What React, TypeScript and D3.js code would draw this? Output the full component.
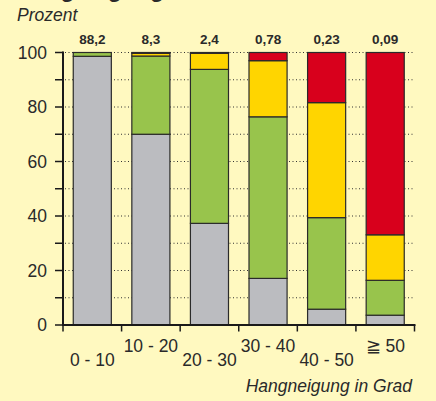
import React from "react";
import * as d3 from "d3";

const categories = ["0 - 10", "10 - 20", "20 - 30", "30 - 40", "40 - 50", "\u2267 50"];
const shares = ["88,2", "8,3", "2,4", "0,78", "0,23", "0,09"];
const gray = [98.6, 70.0, 37.3, 17.1, 5.8, 3.6];
const green = [1.4, 28.7, 56.5, 59.3, 33.6, 12.8];
const yellow = [0, 1.0, 5.9, 20.6, 42.2, 16.7];
const red = [0, 0.3, 0.3, 3.0, 18.4, 66.9];
const yTicks = [0, 20, 40, 60, 80, 100];
const minorTicks = [10, 20, 30, 40, 50, 60, 70, 80, 90, 100];

const seriesKeys = ["gray", "green", "yellow", "red"];
const colors: Record<string, string> = {
  gray: "#BBBCC0",
  green: "#98C44C",
  yellow: "#FFD500",
  red: "#D8001C",
};

const W = 436;
const H = 401;
const left = 63;
const right = 414.5;
const top = 52.5;
const bottom = 325;

export default function App() {
  const rows = categories.map((c, i) => ({
    cat: c,
    gray: gray[i],
    green: green[i],
    yellow: yellow[i],
    red: red[i],
  }));
  const stack = d3.stack<any>().keys(seriesKeys)(rows);
  const x = d3.scaleBand<string>().domain(categories).range([left, right]).paddingInner(0.35).paddingOuter(0.175);
  const xb = d3.scaleBand<string>().domain(categories).range([left, right]);
  const y = d3.scaleLinear().domain([0, 100]).range([bottom, top]);
  const font = "'Liberation Sans', Arial, Helvetica, sans-serif";
  const txt = "#2a2a2a";

  return (
    <svg width={W} height={H} style={{ position: "absolute", left: 0, top: 0 }} fontFamily={font}>
      <rect x={0} y={0} width={W} height={H} fill="#FFF9C0" />
      <text x={17} y={-3} fontSize={23} fontWeight="bold" fill={txt}>Hangneigung</text>
      <text x={17} y={20.5} fontSize={17.5} fontStyle="italic" fill={txt}>Prozent</text>
      {minorTicks.map((t) => (
        <line key={"g" + t} x1={left + 2} x2={right} y1={y(t)} y2={y(t)} stroke="#333" strokeWidth={1} strokeDasharray="1,2.5" />
      ))}
      {stack.map((s) => (
        <g key={s.key}>
          {s.map((d, i) => {
            const h = y(d[0]) - y(d[1]);
            if (h <= 0) return null;
            return (
              <rect
                key={i}
                x={x(categories[i])}
                y={y(d[1])}
                width={x.bandwidth()}
                height={h}
                fill={colors[s.key]}
                stroke="#2a2a2a"
                strokeWidth={1.2}
              />
            );
          })}
        </g>
      ))}
      {categories.map((c, i) => (
        <text key={"s" + i} x={(x(c) as number) + x.bandwidth() / 2} y={44.3} textAnchor="middle" fontSize={13.5} fontWeight="bold" fill={txt}>
          {shares[i]}
        </text>
      ))}
      {/* y axis */}
      <line x1={left} x2={left} y1={top - 1} y2={bottom + 1} stroke="#1a1a1a" strokeWidth={2} />
      {minorTicks.concat([0]).map((t) => (
        <line key={"yt" + t} x1={left - 8} x2={left} y1={y(t)} y2={y(t)} stroke="#1a1a1a" strokeWidth={1.5} />
      ))}
      {yTicks.map((t) => (
        <text key={"yl" + t} x={47} y={y(t) + 6.3} textAnchor="end" fontSize={17.5} fill={txt}>
          {t}
        </text>
      ))}
      {/* x axis */}
      <line x1={left - 1} x2={right + 1} y1={bottom} y2={bottom} stroke="#1a1a1a" strokeWidth={2} />
      {categories.map((c, i) => (
        <line key={"xt" + i} x1={(xb(c) as number) + xb.bandwidth()} x2={(xb(c) as number) + xb.bandwidth()} y1={bottom} y2={bottom + 6.5} stroke="#1a1a1a" strokeWidth={1.5} />
      ))}
      <line x1={left} x2={left} y1={bottom} y2={bottom + 6.5} stroke="#1a1a1a" strokeWidth={1.5} />
      {categories.map((c, i) => (
        <text key={"xl" + i} x={(xb(c) as number) + xb.bandwidth() / 2} y={i % 2 === 0 ? 365.5 : 351.5} textAnchor="middle" fontSize={17.5} fill={txt}>
          {c}
        </text>
      ))}
      <text x={412} y={391.5} textAnchor="end" fontSize={17.5} fontStyle="italic" fill={txt}>
        Hangneigung in Grad
      </text>
    </svg>
  );
}
